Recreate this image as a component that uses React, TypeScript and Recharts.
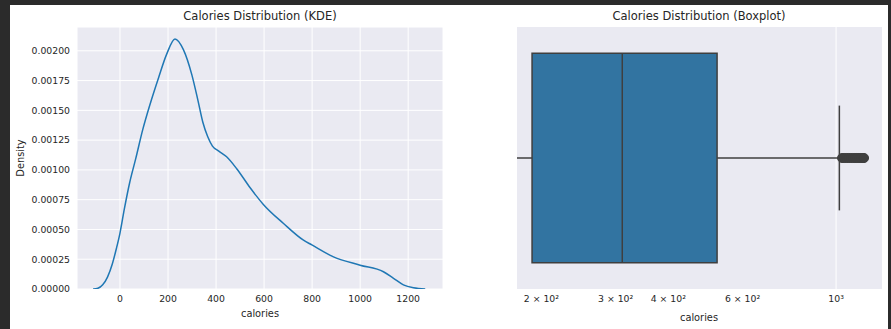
import { CartesianGrid, ComposedChart, Line, LineChart, ReferenceArea, ReferenceLine, Scatter, XAxis, YAxis, ZAxis } from "recharts";

// KDE curve
const kdeCalories = [-112, -92, -72, -52, -32, -15, 0, 18, 40, 65, 95, 125, 160, 194, 229, 264, 299, 325, 345, 365, 385, 410, 444, 486, 542, 597, 681, 764, 799, 889, 1000, 1097, 1139, 1180, 1222, 1271];
const kdeDensity = [0, 0.000006, 0.000035, 0.0001, 0.00021, 0.00034, 0.00047, 0.00067, 0.00089, 0.00109, 0.00134, 0.00155, 0.00177, 0.00197, 0.0021, 0.00201, 0.0018, 0.00158, 0.0014, 0.00128, 0.0012, 0.00116, 0.00111, 0.00101, 0.00085, 0.00071, 0.00055, 0.00041, 0.00037, 0.00027, 0.0002, 0.000145, 0.00009, 0.000035, 0.00001, 0];

const kdeXTicks = [0, 200, 400, 600, 800, 1000, 1200];
const kdeYTicks = [0, 0.00025, 0.0005, 0.00075, 0.001, 0.00125, 0.0015, 0.00175, 0.002];

// boxplot stats (calories)
const whiskerLow = 175;
const q1 = 190;
const median = 311;
const q3 = 522;
const whiskerHigh = 1018;
const outliers = [1033, 1045, 1058, 1070, 1082, 1095, 1108, 1120, 1133, 1145, 1158, 1165];

const boxTicks = [200, 300, 400, 600, 1000];
const boxTickLabels: Record<number, string> = {
  200: "2 × 10²",
  300: "3 × 10²",
  400: "4 × 10²",
  600: "6 × 10²",
  1000: "10³",
};

const kdeData = kdeCalories.map((x, i) => ({ x, y: kdeDensity[i] }));
const outlierData = outliers.map((x) => ({ x, y: 0 }));

const FONT = "DejaVu Sans";
const TEXT = "#262626";
const BG = "#EAEAF2";
const EDGE = "#3f3f3f";
const tickStyle = { fontSize: 9.3, fill: TEXT, fontFamily: FONT };

function Caption({ x, y, children, size = 9.8, rotate = false }: { x: number; y: number; children: string; size?: number; rotate?: boolean }) {
  return (
    <div
      style={{
        position: "absolute",
        left: x,
        top: y,
        transform: `translate(-50%, -50%)${rotate ? " rotate(-90deg)" : ""}`,
        fontFamily: FONT,
        fontSize: size,
        color: TEXT,
        whiteSpace: "nowrap",
        lineHeight: 1,
      }}
    >
      {children}
    </div>
  );
}

export default function App() {
  return (
    <div style={{ position: "absolute", left: 0, top: 0, width: 891, height: 329, background: "#2b2b2b", overflow: "hidden" }}>
      <div style={{ position: "absolute", left: 10, top: 5, width: 878, height: 324, background: "#fff" }} />

      <div style={{ position: "absolute", left: 0, top: 0 }}>
        <LineChart width={460} height={329} data={kdeData} margin={{ top: 27, right: 17, bottom: 0, left: 17 }}>
          <CartesianGrid fill={BG} stroke="#fff" strokeWidth={1} />
          <XAxis
            dataKey="x"
            type="number"
            domain={[-179, 1345]}
            ticks={kdeXTicks}
            allowDataOverflow
            axisLine={false}
            tickLine={false}
            tickSize={4}
            tickMargin={2}
            height={40}
            tick={tickStyle}
          />
          <YAxis
            type="number"
            domain={[0, 0.0022]}
            ticks={kdeYTicks}
            allowDataOverflow
            axisLine={false}
            tickLine={false}
            tickSize={5}
            tickMargin={2}
            width={60}
            tick={tickStyle}
            tickFormatter={(v: number) => v.toFixed(5)}
          />
          <Line dataKey="y" type="monotone" stroke="#1f77b4" strokeWidth={1.5} dot={false} isAnimationActive={false} />
        </LineChart>
      </div>

      <div style={{ position: "absolute", left: 450, top: 0 }}>
        <ComposedChart width={441} height={329} margin={{ top: 27, right: 9, bottom: 0, left: 67 }}>
          <CartesianGrid fill={BG} stroke="#fff" strokeWidth={1} horizontal={false} verticalValues={[1000]} />
          <XAxis
            dataKey="x"
            type="number"
            scale="log"
            domain={[175, 1285]}
            ticks={boxTicks}
            allowDataOverflow
            axisLine={false}
            tickLine={false}
            tickSize={4}
            tickMargin={2}
            height={40}
            tick={tickStyle}
            tickFormatter={(v: number) => boxTickLabels[v] ?? String(v)}
          />
          <YAxis dataKey="y" type="number" domain={[-0.5, 0.5]} hide />
          <ZAxis range={[55, 55]} />
          <ReferenceLine segment={[{ x: whiskerLow, y: 0 }, { x: q1, y: 0 }]} stroke={EDGE} strokeWidth={1.5} ifOverflow="hidden" />
          <ReferenceLine segment={[{ x: q3, y: 0 }, { x: whiskerHigh, y: 0 }]} stroke={EDGE} strokeWidth={1.5} />
          <ReferenceLine segment={[{ x: whiskerHigh, y: -0.2 }, { x: whiskerHigh, y: 0.2 }]} stroke={EDGE} strokeWidth={1.5} />
          <ReferenceArea x1={q1} x2={q3} y1={-0.4} y2={0.4} fill="#3274a1" fillOpacity={1} stroke={EDGE} strokeWidth={1.5} />
          <ReferenceLine segment={[{ x: median, y: -0.4 }, { x: median, y: 0.4 }]} stroke={EDGE} strokeWidth={1.5} />
          <Scatter data={outlierData} fill={EDGE} stroke={EDGE} isAnimationActive={false} />
        </ComposedChart>
      </div>

      <Caption x={260} y={17} size={11.5}>Calories Distribution (KDE)</Caption>
      <Caption x={699} y={17} size={11.5}>Calories Distribution (Boxplot)</Caption>
      <Caption x={260} y={314}>calories</Caption>
      <Caption x={699} y={318}>calories</Caption>
      <Caption x={21} y={158} rotate>Density</Caption>
    </div>
  );
}
